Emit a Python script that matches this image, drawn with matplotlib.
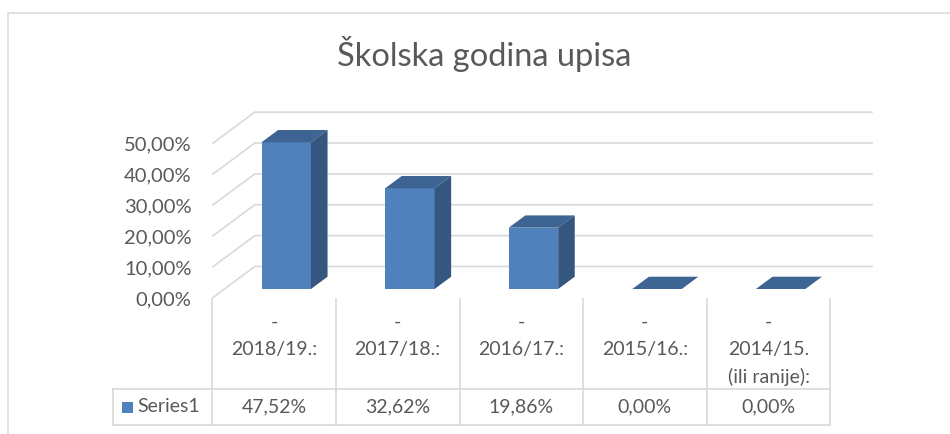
import matplotlib
matplotlib.use("Agg")
import matplotlib.pyplot as plt
from matplotlib.patches import Polygon, Rectangle
from matplotlib import transforms

# ---------------- data ----------------
title = "Školska godina upisa"
categories = ["-\n2018/19.:", "-\n2017/18.:", "-\n2016/17.:", "-\n2015/16.:", "-\n2014/15.\n(ili ranije):"]
values = [47.52, 32.62, 19.86, 0.00, 0.00]
series_name = "Series1"
y_ticks = [0, 10, 20, 30, 40, 50]

def pct(v):
    return f"{v:.2f}%".replace(".", ",")

# ---------------- style ----------------
plt.rcParams['font.family'] = ['Lato', 'DejaVu Sans']
TXT = "#595959"
GRID = "#D9D9D9"
FRONT = "#4F81BD"
SIDE = "#34567F"
TOP = "#3D6492"

W, H = 950, 434
fig = plt.figure(figsize=(W / 100, H / 100), dpi=100)

# overlay axes in pixel coordinates (for frame, title, table)
ov = fig.add_axes([0, 0, 1, 1])
ov.set_xlim(0, W)
ov.set_ylim(H, 0)
ov.axis("off")

# main plot axes
px_per_cat = 123.6
px_per_pct = 3.087
x_left = 212.3
y_floor = 298.0
ymax = 65
ax = fig.add_axes([x_left / W, (H - y_floor) / H, 5 * px_per_cat / W, ymax * px_per_pct / H])
ax.set_xlim(-0.5, len(categories) - 0.5)
ax.set_ylim(0, ymax)
ax.patch.set_alpha(0)
for s in ax.spines.values():
    s.set_visible(False)
ax.set_xticks([])
ax.set_yticks(y_ticks)
ax.set_yticklabels([pct(v) for v in y_ticks], color=TXT, fontsize=14.5)
ax.tick_params(axis="y", length=0, pad=15)

# depth of the 3D box in data units
DX = 42.5 / px_per_cat
DY = 31.5 / px_per_pct
tf, tb = 0.286, 0.676   # bar front / back depth fractions
n = len(categories)

# back wall gridlines + side diagonals
for v in y_ticks:
    ax.plot([-0.5, -0.5 + DX, n - 0.5 + DX], [v, v + DY, v + DY],
            color=GRID, lw=1.2, clip_on=False, zorder=1, solid_capstyle="butt")

# bars (3D look)
bw = 0.4
ddx = (tb - tf) * DX
ddy = (tb - tf) * DY
for i, v in enumerate(values):
    x0 = i + tf * DX - bw / 2
    x1 = x0 + bw
    base = tf * DY
    top = base + v
    if v > 0:
        ax.bar(i + tf * DX, v, width=bw, bottom=base, color=FRONT, zorder=3,
               edgecolor="none")
        ax.add_patch(Polygon([(x1, base), (x1, top), (x1 + ddx, top + ddy), (x1 + ddx, base + ddy)],
                             closed=True, facecolor=SIDE, edgecolor="none", zorder=3, clip_on=False))
    ax.add_patch(Polygon([(x0, top), (x1, top), (x1 + ddx, top + ddy), (x0 + ddx, top + ddy)],
                         closed=True, facecolor=TOP, edgecolor="none", zorder=3, clip_on=False))

# ---------------- title ----------------
ov.text(484, 54, title, ha="center", va="center", fontsize=23.5, color=TXT)

# ---------------- chart frame ----------------
ov.plot([7.5, 7.5, W], [H, 12.5, 12.5], color=GRID, lw=1.1, solid_capstyle="butt")

# ---------------- data table ----------------
bt = transforms.blended_transform_factory(ax.transData, ov.transData)
row_top = 389
row_bot = 425
leg_left = -0.5 - (x_left - 113) / px_per_cat
for i in range(n + 1):
    ov.plot([i - 0.5, i - 0.5], [y_floor, row_bot], color=GRID, lw=1.2, transform=bt,
            solid_capstyle="butt")
ov.plot([leg_left, leg_left], [row_top, row_bot], color=GRID, lw=1.2, transform=bt)
for yy in (row_top, row_bot):
    ov.plot([leg_left, n - 0.5], [yy, yy], color=GRID, lw=1.2, transform=bt,
            solid_capstyle="projecting")

for i, cat in enumerate(categories):
    for k, line in enumerate(cat.split("\n")):
        ov.text(i, 322 + 27.5 * k, line, ha="center", va="center", fontsize=14,
                color=TXT, transform=bt)
    ov.text(i, 407, pct(values[i]), ha="center", va="center", fontsize=14,
            color=TXT, transform=bt)

# legend key in table
ov.add_patch(Rectangle((121.5, 401.5), 11, 11, facecolor=FRONT, edgecolor="none"))
ov.text(137, 407, series_name, ha="left", va="center", fontsize=14, color=TXT)

fig.savefig("out.png", dpi=100)
